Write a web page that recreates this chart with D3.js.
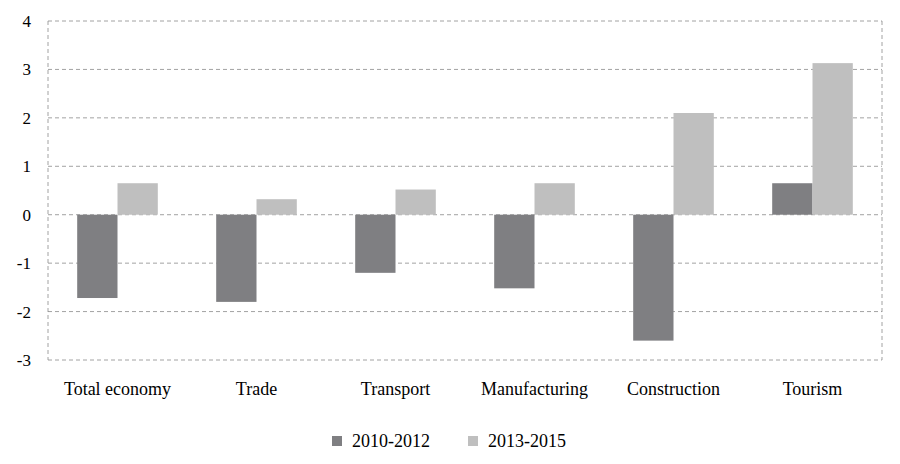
<!DOCTYPE html>
<html><head><meta charset="utf-8">
<script src="https://cdn.jsdelivr.net/npm/d3@7"></script>
<style>body{margin:0;background:#fff}</style>
</head><body>
<script>
const categories = ['Total economy', 'Trade', 'Transport', 'Manufacturing', 'Construction', 'Tourism'];
const series1 = [-1.72, -1.8, -1.2, -1.52, -2.6, 0.65];
const series2 = [0.65, 0.32, 0.52, 0.65, 2.1, 3.13];
const seriesNames = ['2010-2012', '2013-2015'];
const colors = ['#7f7f82', '#bfbfbf'];
const yTicks = [-3, -2, -1, 0, 1, 2, 3, 4];

const W = 900, H = 464, m = {l: 48, r: 18, t: 21, b: 104};
const font = "'Liberation Serif', 'Times New Roman', Times, serif";
const svg = d3.select('body').append('svg').attr('width', W).attr('height', H)
  .attr('font-family', font);

const x = d3.scaleBand().domain(categories).range([m.l, W - m.r]).paddingInner(0.42).paddingOuter(0.21);
const y = d3.scaleLinear().domain([-3, 4]).range([H - m.b, m.t]);

// grid + frame
svg.append('g').selectAll('line').data(yTicks).join('line')
  .attr('x1', m.l).attr('x2', W - m.r).attr('y1', d => y(d)).attr('y2', d => y(d))
  .attr('stroke', '#8a8a8a').attr('stroke-dasharray', '4,3').attr('stroke-width', 0.8);
[m.l, W - m.r].forEach(xx => svg.append('line').attr('x1', xx).attr('x2', xx)
  .attr('y1', y(4)).attr('y2', y(-3)).attr('stroke', '#8a8a8a')
  .attr('stroke-dasharray', '4,3').attr('stroke-width', 0.8));

const bw = x.bandwidth() / 2;
[series1, series2].forEach((s, i) => {
  svg.append('g').selectAll('rect').data(s).join('rect')
    .attr('x', (d, j) => x(categories[j]) + i * bw).attr('width', bw)
    .attr('y', d => y(Math.max(0, d))).attr('height', d => Math.abs(y(d) - y(0)))
    .attr('fill', colors[i]);
});

svg.append('g').selectAll('text').data(yTicks).join('text')
  .attr('x', 31).attr('y', d => y(d) + 6).attr('text-anchor', 'end')
  .attr('font-size', 17).text(d => d);

svg.append('g').selectAll('text').data(categories).join('text')
  .attr('x', d => x(d) + x.bandwidth() / 2).attr('y', 395).attr('text-anchor', 'middle')
  .attr('font-size', 18).text(d => d);

const lx = [332, 468];
seriesNames.forEach((n, i) => {
  svg.append('rect').attr('x', lx[i]).attr('y', 436).attr('width', 10).attr('height', 10).attr('fill', colors[i]);
  svg.append('text').attr('x', lx[i] + 20).attr('y', 447).attr('font-size', 18).text(n);
});
</script>
</body></html>
